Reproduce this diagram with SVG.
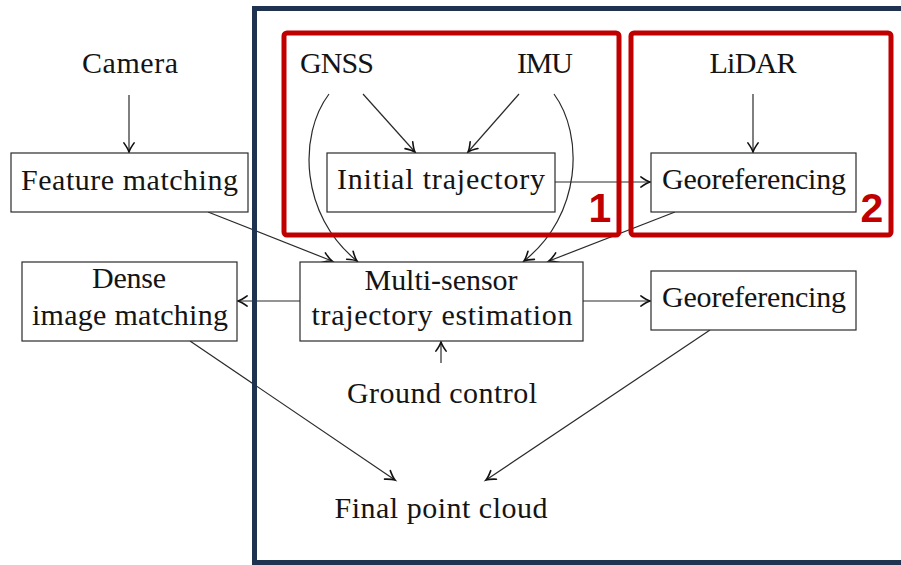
<svg xmlns="http://www.w3.org/2000/svg" width="901" height="565" viewBox="0 0 901 565">
<style>
.t{font-family:"Liberation Serif","Times New Roman",serif;font-size:30px;fill:#141414;text-anchor:middle;lengthAdjust:spacing}
.box{fill:#fff;stroke:#2a2a2a;stroke-width:1.2}
.c{fill:none;stroke:#2a2a2a;stroke-width:1.2;marker-end:url(#ah)}
.red{fill:none;stroke:#c00000;stroke-width:5}
.num{font-family:"Liberation Sans",Arial,sans-serif;font-weight:bold;font-size:41px;fill:#c00000;text-anchor:middle}
</style>
<defs>
<marker id="ah" markerUnits="userSpaceOnUse" markerWidth="16" markerHeight="16" viewBox="-9 -7 11 14" refX="0" refY="0" orient="auto">
<path d="M-8,-4.5 Q-3,-0.9 0,0 Q-3,0.9 -8,4.5" fill="none" stroke="#111" stroke-width="1.4" stroke-linecap="round"/>
</marker>
</defs>
<rect width="901" height="565" fill="#fff"/>
<g id="connectors">
<path class="c" d="M129,95 L129,152"/>
<path class="c" d="M363,94 L415,152"/>
<path class="c" d="M519,94 L468,152"/>
<path class="c" d="M753,94 L753,152"/>
<path class="c" d="M555,182 L650,182"/>
<path class="c" d="M329,94 C298,135 300,215 357,261"/>
<path class="c" d="M554,94 C584,135 582,215 524,261"/>
<path class="c" d="M208,212 L332,261"/>
<path class="c" d="M675,212 L549,261"/>
<path class="c" d="M300,301 L238,301"/>
<path class="c" d="M583,301 L650,301"/>
<path class="c" d="M441,363 L441,342"/>
<path class="c" d="M190,341 L395,480"/>
<path class="c" d="M710,330 L486,480"/>
</g>
<g id="camera"><text class="t" x="130" y="73" textLength="96">Camera</text></g>
<g id="gnss"><text class="t" x="337" y="73" textLength="74">GNSS</text></g>
<g id="imu"><text class="t" x="545" y="73" textLength="56">IMU</text></g>
<g id="lidar"><text class="t" x="753" y="73" textLength="87">LiDAR</text></g>
<g id="feature-matching"><rect class="box" x="11" y="153" width="237" height="59"/><text class="t" x="129.5" y="190" textLength="217">Feature matching</text></g>
<g id="initial-trajectory"><rect class="box" x="327" y="153" width="228" height="59"/><text class="t" x="441" y="189" textLength="208">Initial trajectory</text></g>
<g id="georeferencing-1"><rect class="box" x="651" y="153" width="205" height="59"/><text class="t" x="754" y="189" textLength="184">Georeferencing</text></g>
<g id="dense-matching"><rect class="box" x="22" y="262" width="215" height="79"/><text class="t" x="129" y="288" textLength="74">Dense</text><text class="t" x="130" y="325" textLength="196">image matching</text></g>
<g id="multi-sensor"><rect class="box" x="300" y="262" width="283" height="79"/><text class="t" x="441" y="290" textLength="153">Multi-sensor</text><text class="t" x="442" y="325" textLength="261">trajectory estimation</text></g>
<g id="georeferencing-2"><rect class="box" x="651" y="271" width="205" height="59"/><text class="t" x="754" y="307" textLength="184">Georeferencing</text></g>
<g id="ground-control"><text class="t" x="442" y="403" textLength="190">Ground control</text></g>
<g id="final-point-cloud"><text class="t" x="441" y="518" textLength="213">Final point cloud</text></g>
<g id="frame"><rect x="254.5" y="8.5" width="700" height="554" fill="none" stroke="#1f3350" stroke-width="5"/></g>
<g id="highlight-1"><rect class="red" x="284" y="33" width="335" height="202" rx="3"/><text class="num" x="600" y="222">1</text></g>
<g id="highlight-2"><rect class="red" x="631" y="33" width="260" height="202" rx="3"/><text class="num" x="872" y="222">2</text></g>
</svg>
